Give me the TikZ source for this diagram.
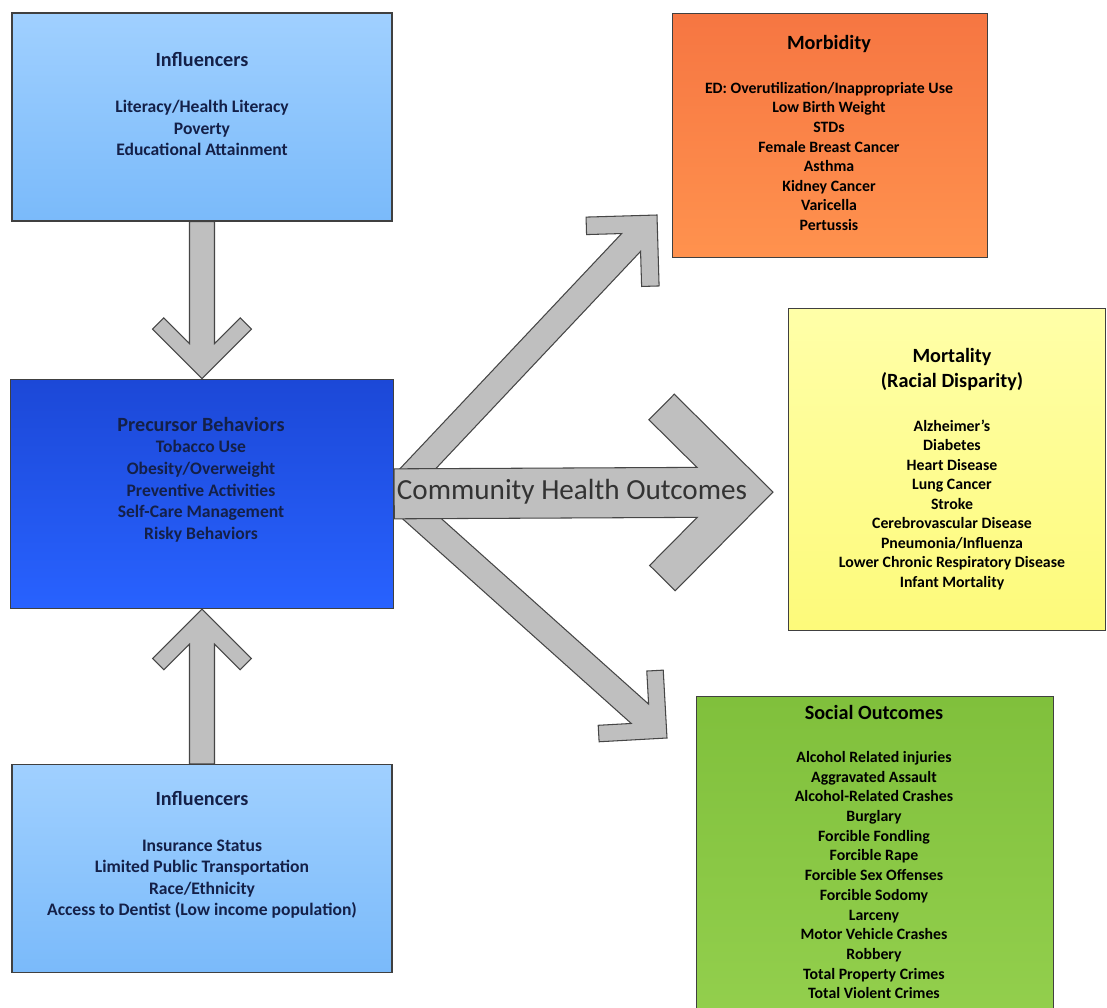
\documentclass[tikz,border=0pt]{standalone}
\usepackage{fontspec}
\setmainfont{Carlito}
\usepackage{xcolor}
\usetikzlibrary{positioning}
\usetikzlibrary{calc}
\usetikzlibrary{backgrounds}
\definecolor{infltop}{RGB}{160, 208, 255}
\definecolor{inflbottom}{RGB}{122, 186, 250}
\definecolor{prectop}{RGB}{28, 72, 215}
\definecolor{precbottom}{RGB}{40, 98, 255}
\definecolor{morbtop}{RGB}{246, 118, 66}
\definecolor{morbbottom}{RGB}{255, 146, 78}
\definecolor{morttop}{RGB}{255, 255, 168}
\definecolor{mortbottom}{RGB}{253, 250, 122}
\definecolor{socialtop}{RGB}{128, 192, 60}
\definecolor{socialbottom}{RGB}{148, 208, 78}
\definecolor{arrowgray}{RGB}{191, 191, 191}
\definecolor{arrowedge}{RGB}{70, 70, 70}
\definecolor{navytext}{RGB}{20, 32, 72}
\tikzstyle{box} = [rectangle, draw=black!75, line width=0.8pt, inner sep=0pt]
\tikzstyle{blockarrow} = [fill=arrowgray, draw=arrowedge, line width=0.6pt, line join=miter]
\tikzstyle{title} = [font=\bfseries\fontsize{11.5}{14}\selectfont, text height=8pt, text depth=2.5pt, inner sep=0pt]
\tikzstyle{item} = [font=\bfseries\fontsize{9}{11}\selectfont, text height=7pt, text depth=2pt, inner sep=0pt]
\tikzstyle{bigitem} = [font=\bfseries\fontsize{10}{12}\selectfont, text height=7.5pt, text depth=2.2pt, inner sep=0pt]
\tikzstyle{outcome} = [font=\fontsize{16.6}{20}\selectfont, text=black!80, inner sep=0pt]

% block arrow with a chevron head: start, tip, half shaft, arm width, arm length
\newcommand{\fatarrow}[5]{%
	\coordinate (fa-j) at ($(#2)!{#4*1.4142+#3}!(#1)$);
	\coordinate (fa-u) at ($(#2)!#5!-45:(#1)$);
	\coordinate (fa-l) at ($(#2)!#5!45:(#1)$);
	\draw[blockarrow] ($(#1)!#3!90:(#2)$) -- ($(fa-j)!#3!-90:(#1)$)
		-- ($(fa-u)!#4!-90:(#2)$) -- (fa-u) -- (#2) -- (fa-l)
		-- ($(fa-l)!#4!90:(#2)$) -- ($(fa-j)!#3!90:(#1)$)
		-- ($(#1)!#3!-90:(#2)$) -- cycle;
}

\begin{document}
\begin{tikzpicture}[x=0.02cm, y=-0.02cm]
	\useasboundingbox (0,0) rectangle (1107,1008);
	\clip (0,0) rectangle (1107,1008);

	%
	% Left column
	\node[box, top color=infltop, bottom color=inflbottom, minimum width=7.6cm, minimum height=4.16cm] (infl1) at (202,117) {};
	\node[box, top color=prectop, bottom color=precbottom, minimum width=7.66cm, minimum height=4.58cm, below=3.14cm of infl1] (prec) {};
	\node[box, top color=infltop, bottom color=inflbottom, minimum width=7.6cm, minimum height=4.16cm, below=3.1cm of prec] (infl2) {};

	\node[title, navytext] (infl1-title) at (202,62) {Influencers};
	\foreach \t [count=\i from 0] in {Literacy/Health Literacy, Poverty, Educational Attainment}
		\node[bigitem, navytext] (infl1-\i) at (202, 108+21.5*\i) {\t};

	\node[title, navytext] (prec-title) at (201,427) {Precursor Behaviors};
	\foreach \t [count=\i from 0] in {Tobacco Use, Obesity/Overweight, Preventive Activities, Self-Care Management, Risky Behaviors}
		\node[bigitem, navytext] (prec-\i) at (201, 448+21.7*\i) {\t};

	\node[title, navytext] (infl2-title) at (202,801) {Influencers};
	\foreach \t [count=\i from 0] in {Insurance Status, Limited Public Transportation, Race/Ethnicity, Access to Dentist (Low income population)}
		\node[bigitem, navytext] (infl2-\i) at (202, 847+21.3*\i) {\t};

	%
	% Right column
	\node[box, top color=morbtop, bottom color=morbbottom, anchor=north west, minimum width=6.3cm, minimum height=4.88cm] (morb) at (672,13) {};
	\node[box, top color=morttop, bottom color=mortbottom, anchor=north west, minimum width=6.34cm, minimum height=6.44cm] (mort) at (788,308) {};
	\node[box, top color=socialtop, bottom color=socialbottom, anchor=north west, minimum width=7.14cm, minimum height=6.8cm] (social) at (696,696) {};

	\node[title] (morb-title) at (829,45) {Morbidity};
	\foreach \t [count=\i from 0] in {ED: Overutilization/Inappropriate Use, Low Birth Weight, STDs, Female Breast Cancer, Asthma, Kidney Cancer, Varicella, Pertussis}
		\node[item] (morb-\i) at (829, 89+19.6*\i) {\t};

	\node[title] (mort-title) at (952,358) {Mortality};
	\node[title] (mort-sub) at (952,383) {(Racial Disparity)};
	\foreach \t [count=\i from 0] in {Alzheimer’s, Diabetes, Heart Disease, Lung Cancer, Stroke, Cerebrovascular Disease, Pneumonia/Influenza, Lower Chronic Respiratory Disease, Infant Mortality}
		\node[item] (mort-\i) at (952, 427+19.5*\i) {\t};

	\node[title] (social-title) at (874,715) {Social Outcomes};
	\foreach \t [count=\i from 0] in {Alcohol Related injuries, Aggravated Assault, Alcohol-Related Crashes, Burglary, Forcible Fondling, Forcible Rape, Forcible Sex Offenses, Forcible Sodomy, Larceny, Motor Vehicle Crashes, Robbery, Total Property Crimes, Total Violent Crimes}
		\node[item] (social-\i) at (874, 758+19.7*\i) {\t};

	% Arrow tips
	\coordinate (morb-tip) at (657,215);
	\coordinate (mort-tip) at (773,492);
	\coordinate (social-tip) at (667,738);

	%
	% Arrows
	\begin{scope}[on background layer]
		\fill[white] (0,0) rectangle (1107,1008);
		\fatarrow{prec.east}{morb-tip}{0.26cm}{0.35cm}{1.42cm}
		\fatarrow{prec.east}{social-tip}{0.26cm}{0.33cm}{1.36cm}
		\fatarrow{prec.east}{mort-tip}{0.5cm}{0.72cm}{2.78cm}
		\fatarrow{infl1.south}{prec.north}{0.25cm}{0.32cm}{1.4cm}
		\fatarrow{infl2.north}{prec.south}{0.25cm}{0.32cm}{1.4cm}
	\end{scope}
	\node[outcome] (outcomes) at (572,492) {Community Health Outcomes};

\end{tikzpicture}
\end{document}
